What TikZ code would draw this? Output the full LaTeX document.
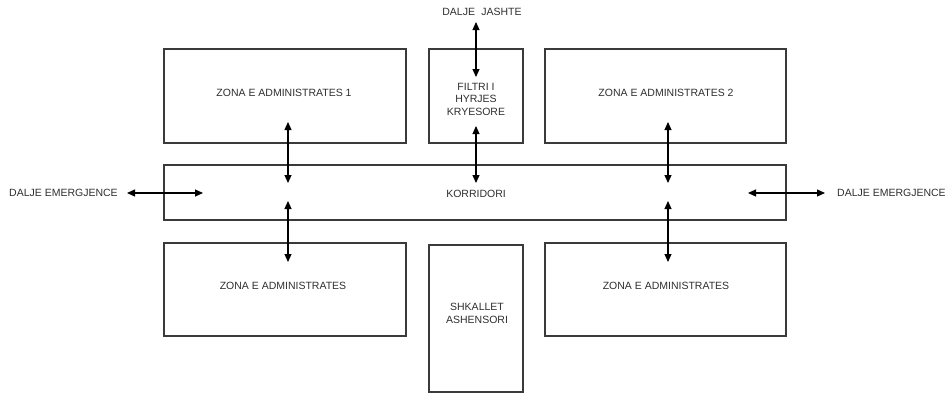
\documentclass[tikz,border=0pt]{standalone}
\usepackage{fontspec}
\setmainfont{Liberation Sans}
\usetikzlibrary{arrows.meta}
\definecolor{ln}{HTML}{3A3A3A}
\definecolor{tx}{HTML}{2E2E2E}
\begin{document}
\begin{tikzpicture}[x=1pt,y=-1pt,
  room/.style={draw=ln,line width=1.4pt,inner sep=0pt},
  lbl/.style={text=tx,font=\fontsize{10.5}{12.5}\selectfont,inner sep=0pt,align=center},
  link/.style={draw=black,line width=1.1pt,{Triangle[length=8pt,width=7pt]}-{Triangle[length=8pt,width=7pt]}}]
\useasboundingbox (0,0) rectangle (946,394);
% rooms
\draw[room] (164,49) rectangle (406,143);
\draw[room] (429,49) rectangle (523,143);
\draw[room] (545,49) rectangle (786,143);
\draw[room] (164,165) rectangle (786,220);
\draw[room] (164,243) rectangle (406,336);
\draw[room] (429,245) rectangle (523,392);
\draw[room] (545,243) rectangle (786,336);
% labels
\node[lbl] (za1) at (284,93) {ZONA E ADMINISTRATES 1};
\node[lbl] (za2) at (666,93) {ZONA E ADMINISTRATES 2};
\node[lbl] (filtri) at (476,99) {FILTRI I\\HYRJES\\KRYESORE};
\node[lbl] (korr) at (476,194) {KORRIDORI};
\node[lbl] (zab1) at (283,286) {ZONA E ADMINISTRATES};
\node[lbl] (zab2) at (666,286) {ZONA E ADMINISTRATES};
\node[lbl] (shk) at (477,313.5) {SHKALLET\\ASHENSORI};
\node[lbl] (jashte) at (482,12) {DALJE\hspace{0.6em}JASHTE};
\node[lbl,anchor=west] (emL) at (9,193) {DALJE EMERGJENCE};
\node[lbl,anchor=west] (emR) at (837,193) {DALJE EMERGJENCE};
% arrow end points
\coordinate (a1t) at (288,122); \coordinate (a1b) at (288,183);
\coordinate (b1t) at (288,201); \coordinate (b1b) at (288,262);
\coordinate (a2t) at (668,122); \coordinate (a2b) at (668,183);
\coordinate (b2t) at (668,201); \coordinate (b2b) at (668,262);
\coordinate (ct) at (476,126); \coordinate (cb) at (476,183);
\coordinate (jt) at (476,22); \coordinate (jb) at (476,77);
\coordinate (hl1) at (127,193); \coordinate (hl2) at (203,193);
\coordinate (hr1) at (748,193); \coordinate (hr2) at (825,193);
% connectors
\draw[link] (a1t) -- (a1b);
\draw[link] (b1t) -- (b1b);
\draw[link] (a2t) -- (a2b);
\draw[link] (b2t) -- (b2b);
\draw[link] (ct) -- (cb);
\draw[link] (jt) -- (jb);
\draw[link] (hl1) -- (hl2);
\draw[link] (hr1) -- (hr2);
\end{tikzpicture}
\end{document}
